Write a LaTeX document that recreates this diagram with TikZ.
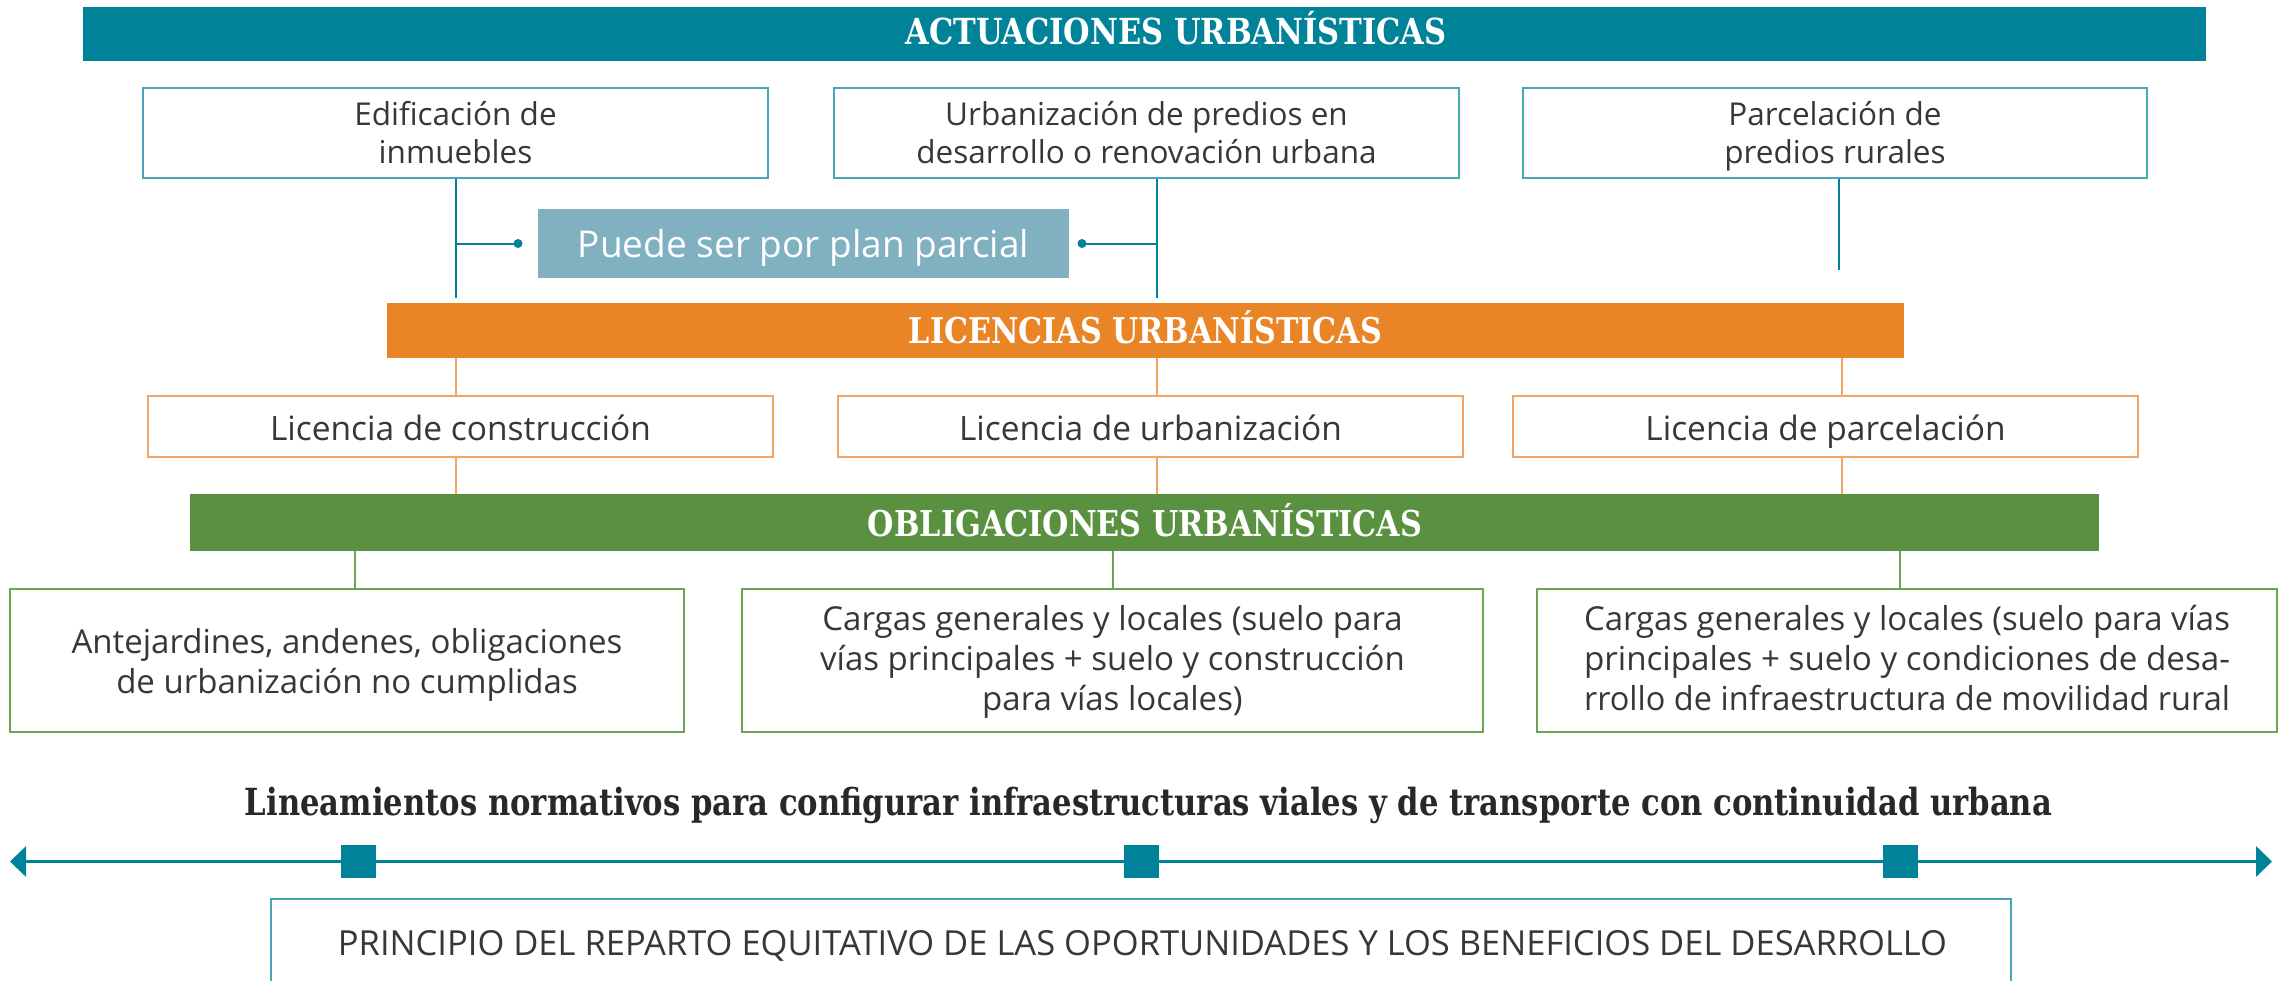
\documentclass[tikz,border=0pt]{standalone}
\usepackage{fontspec}
\usepackage{graphicx}
\setmainfont{Open Sans}
\newfontfamily\slabf[FakeStretch=0.85]{DejaVu Serif}
\newfontfamily\slabl[FakeStretch=0.82]{DejaVu Serif}
\usetikzlibrary{arrows.meta}
\definecolor{teal1}{RGB}{0,130,152}
\definecolor{abord}{RGB}{74,165,183}
\definecolor{orange1}{RGB}{233,132,39}
\definecolor{lbord}{RGB}{240,165,100}
\definecolor{green1}{RGB}{89,145,65}
\definecolor{gbord}{RGB}{110,165,85}
\definecolor{pblue}{RGB}{129,176,193}
\definecolor{txt}{RGB}{55,55,55}
\definecolor{dark}{RGB}{40,40,40}
\tikzset{
  bar/.style={inner sep=0pt, draw=none, minimum height=55pt},
  titletext/.style={inner sep=0pt, text=white, font=\slabf\bfseries, anchor=base},
  abox/.style={draw=abord, line width=1.8pt, minimum width=625pt, minimum height=90pt, inner sep=0pt, align=center, text=txt, font=\fontsize{31.5}{38}\selectfont, text height=68pt, text depth=8pt},
  lbox/.style={draw=lbord, line width=1.8pt, minimum width=625pt, minimum height=61pt, inner sep=0pt, text=txt, font=\fontsize{33.5}{40}\selectfont, text height=34pt, text depth=7pt},
  obox/.style={draw=gbord, line width=1.8pt, minimum height=143pt, inner sep=0pt, align=center, text=txt, font=\fontsize{33}{40}\selectfont},
  tline/.style={draw=teal1, line width=2pt},
  oline/.style={draw=lbord, line width=2pt},
  gline/.style={draw=gbord, line width=2pt},
  sq/.style={fill=teal1, inner sep=0pt, minimum width=35pt, minimum height=33pt},
  tlarrow/.style={draw=teal1, line width=3.5pt, {Triangle[length=16pt,width=30pt]}-{Triangle[length=16pt,width=30pt]}},
}
\begin{document}
\begin{tikzpicture}[x=1pt,y=-1pt]
\path[use as bounding box] (0,0) rectangle (2285,980);
\clip (0,0) rectangle (2285,980);

% x positions of connectors
\coordinate (x2) at (1157,0);
\coordinate (x3) at (1839,0);
\coordinate (x3b) at (1842,0);
\coordinate (gx1) at (355,0);
\coordinate (gx3) at (1900,0);

% Top bar
\node[bar, fill=teal1, minimum width=2123pt, minimum height=54pt] (actbar) at (1144.5,34) {};
\node[titletext] (acttitle) at (1176,44) {\resizebox{541pt}{!}{ACTUACIONES URBANÍSTICAS}};

% Actuaciones boxes
\node[abox] (a1) at (455.5,133) {Edificación de\\inmuebles};
\node[abox] (a2) at (1146.5,133) {Urbanización de predios en\\desarrollo o renovación urbana};
\node[abox, minimum width=624pt] (a3) at (1835,133) {Parcelación de\\predios rurales};

% Plan parcial
\node[fill=pblue, minimum width=531pt, minimum height=69pt, inner sep=0pt] (puede) at (803.5,243.5) {};
\node[anchor=base, inner sep=0pt, text=white] (puedetext) at (803.5,257) {\resizebox{451pt}{!}{Puede ser por plan parcial}};

% Orange bar
\node[bar, fill=orange1, minimum width=1517pt, minimum height=55pt] (orange) at (1145.5,330.5) {};
\node[titletext] (lictitle) at (1145.5,343) {\resizebox{473pt}{!}{LICENCIAS URBANÍSTICAS}};

% teal connectors
\draw[tline, shorten >=5pt] (a1.south) -- (orange.north -| a1.south);
\draw[tline, shorten >=5pt] (a2.south -| x2) -- (orange.north -| x2);
\coordinate (e3) at (1839,270);
\draw[tline] (a3.south -| x3) -- (e3);
\coordinate (dl) at (518,243.5);
\coordinate (dr) at (1082,243.5);
\draw[tline] (puede.west -| a1.south) -- (dl);
\fill[teal1] (dl) circle (4.5pt);
\draw[tline] (puede.east -| x2) -- (dr);
\fill[teal1] (dr) circle (4.5pt);

% Licencias boxes
\node[lbox] (l1) at (460.5,426.5) {Licencia de construcción};
\node[lbox] (l2) at (1150.5,426.5) {Licencia de urbanización};
\node[lbox] (l3) at (1825.5,426.5) {Licencia de parcelación};

% Green bar
\node[bar, fill=green1, minimum width=1909pt, minimum height=57pt] (green) at (1144.5,522.5) {};
\node[titletext] (obltitle) at (1145,536) {\resizebox{554pt}{!}{OBLIGACIONES URBANÍSTICAS}};

% orange connectors
\draw[oline] (orange.south -| a1.south) -- (l1.north -| a1.south);
\draw[oline] (orange.south -| x2) -- (l2.north -| x2);
\draw[oline] (orange.south -| x3b) -- (l3.north -| x3b);
\draw[oline] (l1.south -| a1.south) -- (green.north -| a1.south);
\draw[oline] (l2.south -| x2) -- (green.north -| x2);
\draw[oline] (l3.south -| x3b) -- (green.north -| x3b);

% Obligaciones boxes
\node[obox, minimum width=674pt, text height=72pt, text depth=7pt] (o1) at (347,660.5) {Antejardines, andenes, obligaciones\\de urbanización no cumplidas};
\node[obox, minimum width=741pt, text height=107pt, text depth=7pt] (o2) at (1112.5,660.5) {Cargas generales y locales (suelo para\\vías principales + suelo y construcción\\para vías locales)};
\node[obox, minimum width=740pt, text height=107pt, text depth=7pt] (o3) at (1907,660.5) {\resizebox{646pt}{\height}{Cargas generales y locales (suelo para vías}\\\resizebox{646pt}{\height}{principales + suelo y condiciones de desa-}\\\resizebox{646pt}{\height}{rrollo de infraestructura de movilidad rural}};

% green connectors
\draw[gline] (green.south -| gx1) -- (o1.north -| gx1);
\draw[gline] (green.south -| o2.north) -- (o2.north);
\draw[gline] (green.south -| gx3) -- (o3.north -| gx3);

% Lineamientos
\node[anchor=base, inner sep=0pt, text=dark, font=\slabl\bfseries] (linea) at (1148.5,815) {\resizebox{1807pt}{!}{Lineamientos normativos para configurar infraestructuras viales y de transporte con continuidad urbana}};

% timeline
\coordinate (tl) at (10,861.5);
\coordinate (tr) at (2272,861.5);
\draw[tlarrow] (tl) -- (tr);
\node[sq] (s1) at (358.5,861.5) {};
\node[sq] (s2) at (1141,861.5) {};
\node[sq] (s3) at (1900.5,861.5) {};

% Principio
\node[draw=abord, line width=1.8pt, minimum width=1740pt, minimum height=102pt, inner sep=0pt] (princ) at (1141,950) {};
\node[anchor=base, inner sep=0pt, text=txt] (princtext) at (1142.5,955) {\resizebox{1609pt}{!}{PRINCIPIO DEL REPARTO EQUITATIVO DE LAS OPORTUNIDADES Y LOS BENEFICIOS DEL DESARROLLO}};
\end{tikzpicture}
\end{document}
